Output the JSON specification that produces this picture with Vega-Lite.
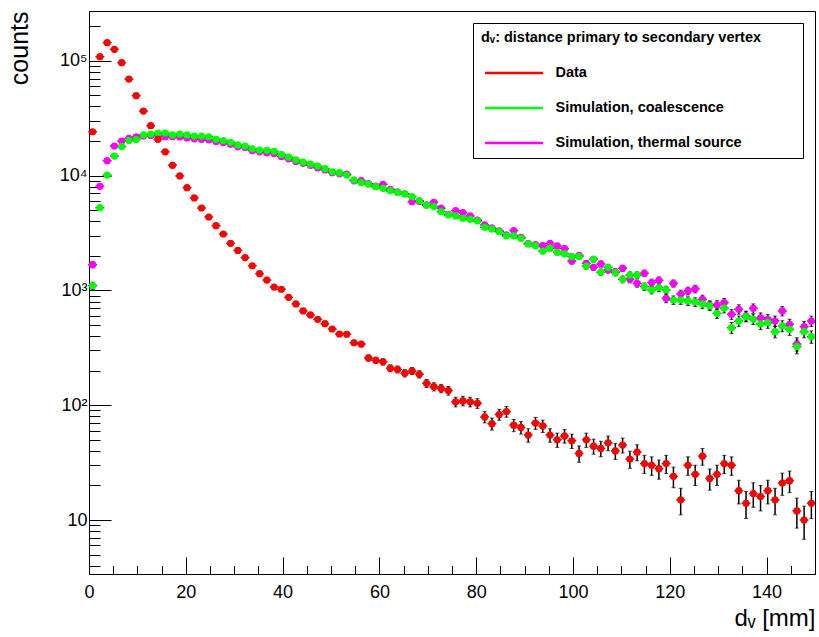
{
  "$schema": "https://vega.github.io/schema/vega-lite/v6.json",
  "width": 726,
  "height": 563,
  "autosize": {"type": "none"},
  "padding": {"left": 89, "top": 11, "right": 4, "bottom": 63},
  "background": "white",
  "config": {
    "view": {"stroke": "black", "strokeWidth": 1},
    "font": "Liberation Sans"
  },
  "data": {"values": [
{"series":"Simulation, thermal source","x":0.75,"y":1675,"err":100},
{"series":"Simulation, thermal source","x":2.25,"y":8070,"err":220},
{"series":"Simulation, thermal source","x":3.75,"y":13500,"err":285},
{"series":"Simulation, thermal source","x":5.25,"y":18100,"err":329},
{"series":"Simulation, thermal source","x":6.75,"y":20000,"err":346},
{"series":"Simulation, thermal source","x":8.25,"y":21100,"err":356},
{"series":"Simulation, thermal source","x":9.75,"y":21700,"err":361},
{"series":"Simulation, thermal source","x":11.25,"y":22100,"err":364},
{"series":"Simulation, thermal source","x":12.75,"y":22400,"err":367},
{"series":"Simulation, thermal source","x":14.25,"y":22300,"err":366},
{"series":"Simulation, thermal source","x":15.75,"y":21800,"err":362},
{"series":"Simulation, thermal source","x":17.25,"y":21800,"err":362},
{"series":"Simulation, thermal source","x":18.75,"y":21700,"err":361},
{"series":"Simulation, thermal source","x":20.25,"y":21300,"err":357},
{"series":"Simulation, thermal source","x":21.75,"y":20900,"err":354},
{"series":"Simulation, thermal source","x":23.25,"y":20700,"err":352},
{"series":"Simulation, thermal source","x":24.75,"y":20500,"err":351},
{"series":"Simulation, thermal source","x":26.25,"y":19800,"err":345},
{"series":"Simulation, thermal source","x":27.75,"y":19400,"err":341},
{"series":"Simulation, thermal source","x":29.25,"y":18800,"err":336},
{"series":"Simulation, thermal source","x":30.75,"y":17800,"err":327},
{"series":"Simulation, thermal source","x":32.25,"y":17600,"err":325},
{"series":"Simulation, thermal source","x":33.75,"y":16500,"err":315},
{"series":"Simulation, thermal source","x":35.25,"y":16100,"err":311},
{"series":"Simulation, thermal source","x":36.75,"y":15800,"err":308},
{"series":"Simulation, thermal source","x":38.25,"y":15600,"err":306},
{"series":"Simulation, thermal source","x":39.75,"y":14700,"err":297},
{"series":"Simulation, thermal source","x":41.25,"y":14000,"err":290},
{"series":"Simulation, thermal source","x":42.75,"y":13300,"err":282},
{"series":"Simulation, thermal source","x":44.25,"y":12800,"err":277},
{"series":"Simulation, thermal source","x":45.75,"y":12300,"err":272},
{"series":"Simulation, thermal source","x":47.25,"y":11700,"err":265},
{"series":"Simulation, thermal source","x":48.75,"y":11200,"err":259},
{"series":"Simulation, thermal source","x":50.25,"y":10600,"err":252},
{"series":"Simulation, thermal source","x":51.75,"y":10400,"err":250},
{"series":"Simulation, thermal source","x":53.25,"y":10300,"err":249},
{"series":"Simulation, thermal source","x":54.75,"y":9000,"err":232},
{"series":"Simulation, thermal source","x":56.25,"y":9030,"err":233},
{"series":"Simulation, thermal source","x":57.75,"y":8500,"err":226},
{"series":"Simulation, thermal source","x":59.25,"y":8100,"err":220},
{"series":"Simulation, thermal source","x":60.75,"y":8390,"err":224},
{"series":"Simulation, thermal source","x":62.25,"y":7600,"err":214},
{"series":"Simulation, thermal source","x":63.75,"y":7200,"err":208},
{"series":"Simulation, thermal source","x":65.25,"y":6950,"err":204},
{"series":"Simulation, thermal source","x":66.75,"y":5930,"err":189},
{"series":"Simulation, thermal source","x":68.25,"y":5950,"err":189},
{"series":"Simulation, thermal source","x":69.75,"y":5550,"err":182},
{"series":"Simulation, thermal source","x":71.25,"y":5860,"err":188},
{"series":"Simulation, thermal source","x":72.75,"y":5200,"err":177},
{"series":"Simulation, thermal source","x":74.25,"y":4600,"err":166},
{"series":"Simulation, thermal source","x":75.75,"y":4950,"err":172},
{"series":"Simulation, thermal source","x":77.25,"y":4750,"err":169},
{"series":"Simulation, thermal source","x":78.75,"y":4450,"err":163},
{"series":"Simulation, thermal source","x":80.25,"y":4100,"err":157},
{"series":"Simulation, thermal source","x":81.75,"y":3720,"err":149},
{"series":"Simulation, thermal source","x":83.25,"y":3500,"err":145},
{"series":"Simulation, thermal source","x":84.75,"y":3300,"err":141},
{"series":"Simulation, thermal source","x":86.25,"y":3050,"err":135},
{"series":"Simulation, thermal source","x":87.75,"y":3320,"err":141},
{"series":"Simulation, thermal source","x":89.25,"y":2900,"err":132},
{"series":"Simulation, thermal source","x":90.75,"y":2560,"err":124},
{"series":"Simulation, thermal source","x":92.25,"y":2500,"err":122},
{"series":"Simulation, thermal source","x":93.75,"y":2450,"err":121},
{"series":"Simulation, thermal source","x":95.25,"y":2570,"err":124},
{"series":"Simulation, thermal source","x":96.75,"y":2440,"err":121},
{"series":"Simulation, thermal source","x":98.25,"y":2310,"err":118},
{"series":"Simulation, thermal source","x":99.75,"y":1800,"err":104},
{"series":"Simulation, thermal source","x":101.25,"y":2020,"err":110},
{"series":"Simulation, thermal source","x":102.75,"y":1720,"err":102},
{"series":"Simulation, thermal source","x":104.25,"y":1590,"err":98},
{"series":"Simulation, thermal source","x":105.75,"y":1700,"err":101},
{"series":"Simulation, thermal source","x":107.25,"y":1510,"err":95},
{"series":"Simulation, thermal source","x":108.75,"y":1450,"err":93},
{"series":"Simulation, thermal source","x":110.25,"y":1560,"err":97},
{"series":"Simulation, thermal source","x":111.75,"y":1250,"err":87},
{"series":"Simulation, thermal source","x":113.25,"y":1150,"err":83},
{"series":"Simulation, thermal source","x":114.75,"y":1410,"err":92},
{"series":"Simulation, thermal source","x":116.25,"y":1170,"err":84},
{"series":"Simulation, thermal source","x":117.75,"y":1225,"err":86},
{"series":"Simulation, thermal source","x":119.25,"y":853,"err":72},
{"series":"Simulation, thermal source","x":120.75,"y":1150,"err":83},
{"series":"Simulation, thermal source","x":122.25,"y":930,"err":75},
{"series":"Simulation, thermal source","x":123.75,"y":990,"err":77},
{"series":"Simulation, thermal source","x":125.25,"y":1030,"err":79},
{"series":"Simulation, thermal source","x":126.75,"y":837,"err":71},
{"series":"Simulation, thermal source","x":128.25,"y":745,"err":67},
{"series":"Simulation, thermal source","x":129.75,"y":746,"err":67},
{"series":"Simulation, thermal source","x":131.25,"y":782,"err":68},
{"series":"Simulation, thermal source","x":132.75,"y":620,"err":61},
{"series":"Simulation, thermal source","x":134.25,"y":685,"err":64},
{"series":"Simulation, thermal source","x":135.75,"y":600,"err":60},
{"series":"Simulation, thermal source","x":137.25,"y":698,"err":65},
{"series":"Simulation, thermal source","x":138.75,"y":578,"err":59},
{"series":"Simulation, thermal source","x":140.25,"y":560,"err":58},
{"series":"Simulation, thermal source","x":141.75,"y":541,"err":57},
{"series":"Simulation, thermal source","x":143.25,"y":662,"err":63},
{"series":"Simulation, thermal source","x":144.75,"y":506,"err":55},
{"series":"Simulation, thermal source","x":146.25,"y":341,"err":45},
{"series":"Simulation, thermal source","x":147.75,"y":483,"err":54},
{"series":"Simulation, thermal source","x":149.25,"y":541,"err":57},
{"series":"Simulation, coalescence","x":0.75,"y":1100,"err":81},
{"series":"Simulation, coalescence","x":2.25,"y":5250,"err":178},
{"series":"Simulation, coalescence","x":3.75,"y":10100,"err":246},
{"series":"Simulation, coalescence","x":5.25,"y":14800,"err":298},
{"series":"Simulation, coalescence","x":6.75,"y":17900,"err":328},
{"series":"Simulation, coalescence","x":8.25,"y":20200,"err":348},
{"series":"Simulation, coalescence","x":9.75,"y":20600,"err":351},
{"series":"Simulation, coalescence","x":11.25,"y":22600,"err":368},
{"series":"Simulation, coalescence","x":12.75,"y":23000,"err":371},
{"series":"Simulation, coalescence","x":14.25,"y":23400,"err":375},
{"series":"Simulation, coalescence","x":15.75,"y":23500,"err":375},
{"series":"Simulation, coalescence","x":17.25,"y":22600,"err":368},
{"series":"Simulation, coalescence","x":18.75,"y":23000,"err":371},
{"series":"Simulation, coalescence","x":20.25,"y":22600,"err":368},
{"series":"Simulation, coalescence","x":21.75,"y":22100,"err":364},
{"series":"Simulation, coalescence","x":23.25,"y":22100,"err":364},
{"series":"Simulation, coalescence","x":24.75,"y":21800,"err":362},
{"series":"Simulation, coalescence","x":26.25,"y":20700,"err":352},
{"series":"Simulation, coalescence","x":27.75,"y":20200,"err":348},
{"series":"Simulation, coalescence","x":29.25,"y":19500,"err":342},
{"series":"Simulation, coalescence","x":30.75,"y":18500,"err":333},
{"series":"Simulation, coalescence","x":32.25,"y":18100,"err":329},
{"series":"Simulation, coalescence","x":33.75,"y":17100,"err":320},
{"series":"Simulation, coalescence","x":35.25,"y":16700,"err":316},
{"series":"Simulation, coalescence","x":36.75,"y":16600,"err":316},
{"series":"Simulation, coalescence","x":38.25,"y":16300,"err":313},
{"series":"Simulation, coalescence","x":39.75,"y":15300,"err":303},
{"series":"Simulation, coalescence","x":41.25,"y":14500,"err":295},
{"series":"Simulation, coalescence","x":42.75,"y":13700,"err":287},
{"series":"Simulation, coalescence","x":44.25,"y":13100,"err":280},
{"series":"Simulation, coalescence","x":45.75,"y":12600,"err":275},
{"series":"Simulation, coalescence","x":47.25,"y":12100,"err":269},
{"series":"Simulation, coalescence","x":48.75,"y":11500,"err":263},
{"series":"Simulation, coalescence","x":50.25,"y":10800,"err":254},
{"series":"Simulation, coalescence","x":51.75,"y":10600,"err":252},
{"series":"Simulation, coalescence","x":53.25,"y":10100,"err":246},
{"series":"Simulation, coalescence","x":54.75,"y":9160,"err":234},
{"series":"Simulation, coalescence","x":56.25,"y":8670,"err":228},
{"series":"Simulation, coalescence","x":57.75,"y":8450,"err":225},
{"series":"Simulation, coalescence","x":59.25,"y":8000,"err":219},
{"series":"Simulation, coalescence","x":60.75,"y":7750,"err":216},
{"series":"Simulation, coalescence","x":62.25,"y":7390,"err":211},
{"series":"Simulation, coalescence","x":63.75,"y":7160,"err":207},
{"series":"Simulation, coalescence","x":65.25,"y":6920,"err":204},
{"series":"Simulation, coalescence","x":66.75,"y":6560,"err":198},
{"series":"Simulation, coalescence","x":68.25,"y":6050,"err":191},
{"series":"Simulation, coalescence","x":69.75,"y":5520,"err":182},
{"series":"Simulation, coalescence","x":71.25,"y":5370,"err":179},
{"series":"Simulation, coalescence","x":72.75,"y":4860,"err":171},
{"series":"Simulation, coalescence","x":74.25,"y":4540,"err":165},
{"series":"Simulation, coalescence","x":75.75,"y":4450,"err":163},
{"series":"Simulation, coalescence","x":77.25,"y":4250,"err":160},
{"series":"Simulation, coalescence","x":78.75,"y":4160,"err":158},
{"series":"Simulation, coalescence","x":80.25,"y":4030,"err":155},
{"series":"Simulation, coalescence","x":81.75,"y":3550,"err":146},
{"series":"Simulation, coalescence","x":83.25,"y":3430,"err":143},
{"series":"Simulation, coalescence","x":84.75,"y":3250,"err":140},
{"series":"Simulation, coalescence","x":86.25,"y":2980,"err":134},
{"series":"Simulation, coalescence","x":87.75,"y":2990,"err":134},
{"series":"Simulation, coalescence","x":89.25,"y":2840,"err":131},
{"series":"Simulation, coalescence","x":90.75,"y":2540,"err":123},
{"series":"Simulation, coalescence","x":92.25,"y":2450,"err":121},
{"series":"Simulation, coalescence","x":93.75,"y":2200,"err":115},
{"series":"Simulation, coalescence","x":95.25,"y":2330,"err":118},
{"series":"Simulation, coalescence","x":96.75,"y":2150,"err":114},
{"series":"Simulation, coalescence","x":98.25,"y":2080,"err":112},
{"series":"Simulation, coalescence","x":99.75,"y":1970,"err":109},
{"series":"Simulation, coalescence","x":101.25,"y":1970,"err":109},
{"series":"Simulation, coalescence","x":102.75,"y":1630,"err":99},
{"series":"Simulation, coalescence","x":104.25,"y":1870,"err":106},
{"series":"Simulation, coalescence","x":105.75,"y":1440,"err":93},
{"series":"Simulation, coalescence","x":107.25,"y":1590,"err":98},
{"series":"Simulation, coalescence","x":108.75,"y":1430,"err":93},
{"series":"Simulation, coalescence","x":110.25,"y":1250,"err":87},
{"series":"Simulation, coalescence","x":111.75,"y":1360,"err":90},
{"series":"Simulation, coalescence","x":113.25,"y":1360,"err":90},
{"series":"Simulation, coalescence","x":114.75,"y":1080,"err":80},
{"series":"Simulation, coalescence","x":116.25,"y":1010,"err":78},
{"series":"Simulation, coalescence","x":117.75,"y":1060,"err":80},
{"series":"Simulation, coalescence","x":119.25,"y":1010,"err":78},
{"series":"Simulation, coalescence","x":120.75,"y":825,"err":70},
{"series":"Simulation, coalescence","x":122.25,"y":825,"err":70},
{"series":"Simulation, coalescence","x":123.75,"y":809,"err":70},
{"series":"Simulation, coalescence","x":125.25,"y":793,"err":69},
{"series":"Simulation, coalescence","x":126.75,"y":762,"err":68},
{"series":"Simulation, coalescence","x":128.25,"y":732,"err":66},
{"series":"Simulation, coalescence","x":129.75,"y":631,"err":62},
{"series":"Simulation, coalescence","x":131.25,"y":702,"err":65},
{"series":"Simulation, coalescence","x":132.75,"y":473,"err":53},
{"series":"Simulation, coalescence","x":134.25,"y":541,"err":57},
{"series":"Simulation, coalescence","x":135.75,"y":590,"err":59},
{"series":"Simulation, coalescence","x":137.25,"y":563,"err":58},
{"series":"Simulation, coalescence","x":138.75,"y":510,"err":55},
{"series":"Simulation, coalescence","x":140.25,"y":523,"err":56},
{"series":"Simulation, coalescence","x":141.75,"y":437,"err":51},
{"series":"Simulation, coalescence","x":143.25,"y":490,"err":54},
{"series":"Simulation, coalescence","x":144.75,"y":458,"err":52},
{"series":"Simulation, coalescence","x":146.25,"y":324,"err":44},
{"series":"Simulation, coalescence","x":147.75,"y":437,"err":51},
{"series":"Simulation, coalescence","x":149.25,"y":395,"err":49},
{"series":"Data","x":0.75,"y":24100,"err":155},
{"series":"Data","x":2.25,"y":108600,"err":330},
{"series":"Data","x":3.75,"y":143900,"err":379},
{"series":"Data","x":5.25,"y":126000,"err":355},
{"series":"Data","x":6.75,"y":96200,"err":310},
{"series":"Data","x":8.25,"y":69300,"err":263},
{"series":"Data","x":9.75,"y":49700,"err":223},
{"series":"Data","x":11.25,"y":36500,"err":191},
{"series":"Data","x":12.75,"y":27200,"err":165},
{"series":"Data","x":14.25,"y":20700,"err":144},
{"series":"Data","x":15.75,"y":16100,"err":127},
{"series":"Data","x":17.25,"y":12300,"err":111},
{"series":"Data","x":18.75,"y":9930,"err":100},
{"series":"Data","x":20.25,"y":7850,"err":89},
{"series":"Data","x":21.75,"y":6390,"err":80},
{"series":"Data","x":23.25,"y":5220,"err":72},
{"series":"Data","x":24.75,"y":4360,"err":66},
{"series":"Data","x":26.25,"y":3660,"err":60},
{"series":"Data","x":27.75,"y":3100,"err":56},
{"series":"Data","x":29.25,"y":2570,"err":51},
{"series":"Data","x":30.75,"y":2230,"err":47},
{"series":"Data","x":32.25,"y":1930,"err":44},
{"series":"Data","x":33.75,"y":1640,"err":40},
{"series":"Data","x":35.25,"y":1400,"err":37},
{"series":"Data","x":36.75,"y":1230,"err":35},
{"series":"Data","x":38.25,"y":1070,"err":33},
{"series":"Data","x":39.75,"y":1023,"err":32},
{"series":"Data","x":41.25,"y":871,"err":29.5},
{"series":"Data","x":42.75,"y":762,"err":27.6},
{"series":"Data","x":44.25,"y":662,"err":25.7},
{"series":"Data","x":45.75,"y":611,"err":24.7},
{"series":"Data","x":47.25,"y":560,"err":23.7},
{"series":"Data","x":48.75,"y":513,"err":22.6},
{"series":"Data","x":50.25,"y":461,"err":21.5},
{"series":"Data","x":51.75,"y":417,"err":20.4},
{"series":"Data","x":53.25,"y":415,"err":20.4},
{"series":"Data","x":54.75,"y":350,"err":18.7},
{"series":"Data","x":56.25,"y":341,"err":18.5},
{"series":"Data","x":57.75,"y":258,"err":16.1},
{"series":"Data","x":59.25,"y":246,"err":15.7},
{"series":"Data","x":60.75,"y":239,"err":15.5},
{"series":"Data","x":62.25,"y":210,"err":14.5},
{"series":"Data","x":63.75,"y":205,"err":14.3},
{"series":"Data","x":65.25,"y":190,"err":13.8},
{"series":"Data","x":66.75,"y":199,"err":14.1},
{"series":"Data","x":68.25,"y":186,"err":13.6},
{"series":"Data","x":69.75,"y":155,"err":12.4},
{"series":"Data","x":71.25,"y":145,"err":12.0},
{"series":"Data","x":72.75,"y":140,"err":11.8},
{"series":"Data","x":74.25,"y":134,"err":11.6},
{"series":"Data","x":75.75,"y":107,"err":10.3},
{"series":"Data","x":77.25,"y":109,"err":10.4},
{"series":"Data","x":78.75,"y":107,"err":10.3},
{"series":"Data","x":80.25,"y":104,"err":10.2},
{"series":"Data","x":81.75,"y":79,"err":8.9},
{"series":"Data","x":83.25,"y":69,"err":8.3},
{"series":"Data","x":84.75,"y":83,"err":9.1},
{"series":"Data","x":86.25,"y":88,"err":9.4},
{"series":"Data","x":87.75,"y":67,"err":8.2},
{"series":"Data","x":89.25,"y":64,"err":8.0},
{"series":"Data","x":90.75,"y":55,"err":7.4},
{"series":"Data","x":92.25,"y":70,"err":8.4},
{"series":"Data","x":93.75,"y":66,"err":8.1},
{"series":"Data","x":95.25,"y":55,"err":7.4},
{"series":"Data","x":96.75,"y":50,"err":7.1},
{"series":"Data","x":98.25,"y":54,"err":7.3},
{"series":"Data","x":99.75,"y":49,"err":7.0},
{"series":"Data","x":101.25,"y":38,"err":6.2},
{"series":"Data","x":102.75,"y":50,"err":7.1},
{"series":"Data","x":104.25,"y":44,"err":6.6},
{"series":"Data","x":105.75,"y":42,"err":6.5},
{"series":"Data","x":107.25,"y":47,"err":6.9},
{"series":"Data","x":108.75,"y":40,"err":6.3},
{"series":"Data","x":110.25,"y":45,"err":6.7},
{"series":"Data","x":111.75,"y":34,"err":5.8},
{"series":"Data","x":113.25,"y":39,"err":6.2},
{"series":"Data","x":114.75,"y":31,"err":5.6},
{"series":"Data","x":116.25,"y":30,"err":5.5},
{"series":"Data","x":117.75,"y":28,"err":5.3},
{"series":"Data","x":119.25,"y":31,"err":5.6},
{"series":"Data","x":120.75,"y":24,"err":4.9},
{"series":"Data","x":122.25,"y":15,"err":3.9},
{"series":"Data","x":123.75,"y":30,"err":5.5},
{"series":"Data","x":125.25,"y":25,"err":5.0},
{"series":"Data","x":126.75,"y":36,"err":6.0},
{"series":"Data","x":128.25,"y":23,"err":4.8},
{"series":"Data","x":129.75,"y":25,"err":5.0},
{"series":"Data","x":131.25,"y":31,"err":5.6},
{"series":"Data","x":132.75,"y":30,"err":5.5},
{"series":"Data","x":134.25,"y":18,"err":4.2},
{"series":"Data","x":135.75,"y":14,"err":3.7},
{"series":"Data","x":137.25,"y":17,"err":4.1},
{"series":"Data","x":138.75,"y":16,"err":4.0},
{"series":"Data","x":140.25,"y":18,"err":4.2},
{"series":"Data","x":141.75,"y":15,"err":3.9},
{"series":"Data","x":143.25,"y":21,"err":4.6},
{"series":"Data","x":144.75,"y":22,"err":4.7},
{"series":"Data","x":146.25,"y":12,"err":3.5},
{"series":"Data","x":147.75,"y":10,"err":3.2},
{"series":"Data","x":149.25,"y":14,"err":3.7}
  ]},
  "resolve": {"axis": {"x": "independent", "y": "independent"}},
  "layer": [
    {
      "mark": {"type": "errorbar", "color": "black", "rule": {"strokeWidth": 1.5}, "ticks": {"size": 4, "color": "black"}},
      "encoding": {
        "x": {"field": "x", "type": "quantitative", "scale": {"domain": [0, 150], "nice": false, "zero": false}, "axis": null},
        "y": {"field": "y", "type": "quantitative", "scale": {"type": "log", "domain": [3.386, 271500], "nice": false, "zero": false}, "axis": null},
        "yError": {"field": "err"}
      }
    },
    {
      "mark": {"type": "tick", "orient": "horizontal", "size": 9, "thickness": 1.5, "color": "black"},
      "encoding": {
        "x": {"field": "x", "type": "quantitative", "scale": {"domain": [0, 150], "nice": false, "zero": false},
          "axis": {"orient": "bottom", "values": [5,10,15,25,30,35,45,50,55,65,70,75,85,90,95,105,110,115,125,130,135,145,150], "labels": false, "domain": false, "grid": false, "tickSize": -8.5, "tickColor": "black", "tickWidth": 1, "title": null}},
        "y": {"field": "y", "type": "quantitative", "scale": {"type": "log", "domain": [3.386, 271500], "nice": false, "zero": false},
          "axis": {"orient": "left", "values": [4,5,6,7,8,9,20,30,40,50,60,70,80,90,200,300,400,500,600,700,800,900,2000,3000,4000,5000,6000,7000,8000,9000,20000,30000,40000,50000,60000,70000,80000,90000,200000], "labels": false, "domain": false, "grid": false, "tickSize": -11, "tickColor": "black", "tickWidth": 1, "title": null}}
      }
    },
    {
      "mark": {"type": "point", "filled": true, "shape": "circle", "size": 52, "opacity": 1, "strokeWidth": 0},
      "encoding": {
        "x": {"field": "x", "type": "quantitative", "scale": {"domain": [0, 150], "nice": false, "zero": false},
          "axis": {"orient": "bottom", "values": [0,20,40,60,80,100,120,140], "grid": false, "tickSize": -17, "tickColor": "black", "tickWidth": 1, "domainColor": "black", "domainWidth": 1, "labelFlush": false, "labelFont": "Liberation Sans", "labelFontSize": 18, "labelColor": "black", "labelPadding": 26, "title": "dᵥ [mm]", "titleFont": "Liberation Sans", "titleFontSize": 24, "titleFontWeight": "normal", "titleColor": "black", "titleAnchor": "end", "titlePadding": 5}},
        "y": {"field": "y", "type": "quantitative", "scale": {"type": "log", "domain": [3.386, 271500], "nice": false, "zero": false},
          "axis": {"orient": "left", "values": [10,100,1000,10000,100000], "labelExpr": "datum.value == 10 ? '10' : datum.value == 100 ? '10²' : datum.value == 1000 ? '10³' : datum.value == 10000 ? '10⁴' : '10⁵'", "grid": false, "tickSize": -22, "tickColor": "black", "tickWidth": 1, "domainColor": "black", "domainWidth": 1, "labelFont": "Liberation Sans", "labelFontSize": 18, "labelColor": "black", "labelPadding": 24, "title": "counts", "titleFont": "Liberation Sans", "titleFontSize": 25, "titleFontWeight": "normal", "titleColor": "black", "titleAnchor": "end", "titlePadding": 27}},
        "color": {"field": "series", "type": "nominal",
          "scale": {"domain": ["Data", "Simulation, coalescence", "Simulation, thermal source"], "range": ["#ff0000", "#00ff00", "#ff00ff"]},
          "legend": {"orient": "top-right", "offset": 12, "title": "dᵥ: distance primary to secondary vertex\u2800\u2800\u2800", "titleFont": "Liberation Sans", "titleFontSize": 14.5, "titleFontWeight": "bold", "titleColor": "black", "titleLimit": 500, "titlePadding": 13,
            "labelFont": "Liberation Sans", "labelFontSize": 14.5, "labelFontWeight": "bold", "labelColor": "black", "labelLimit": 400, "labelOffset": 27,
            "symbolType": "M-2,-0.09H2V0.09H-2Z", "symbolSize": 841, "symbolStrokeWidth": 0, "symbolOffset": 18.5, "rowPadding": 14,
            "padding": 8, "strokeColor": "black", "fillColor": "white",
            "encode": {
              "legend": {"update": {"strokeWidth": {"value": 1.5}}}}}
        }
      }
    }
  ]
}
